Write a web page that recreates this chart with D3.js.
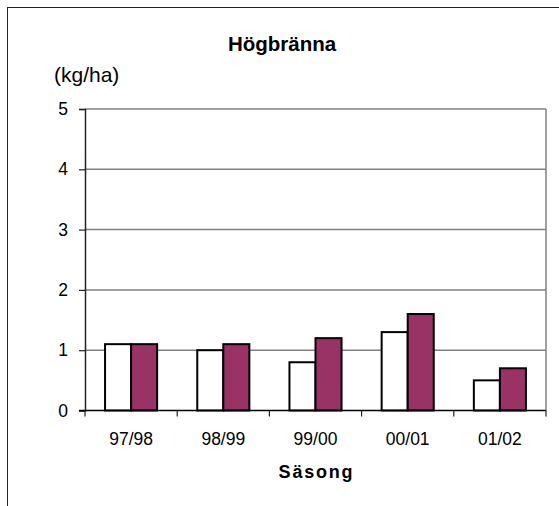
<!DOCTYPE html>
<html>
<head>
<meta charset="utf-8">
<script src="https://cdn.jsdelivr.net/npm/d3@7"></script>
<style>
  html, body { margin: 0; padding: 0; background: #fff; }
  svg { display: block; font-family: "Liberation Sans", Arial, sans-serif; }
</style>
</head>
<body>
<svg id="chart" width="559" height="506"></svg>
<script>
const categories = ["97/98", "98/99", "99/00", "00/01", "01/02"];
const seriesA = [1.1, 1.0, 0.8, 1.3, 0.5];
const seriesB = [1.1, 1.1, 1.2, 1.6, 0.7];
const yTicks = [0, 1, 2, 3, 4, 5];
const title = "Högbränna";
const yUnit = "(kg/ha)";
const xTitle = "Säsong";

const svg = d3.select("#chart");
const m = { left: 85, right: 546, top: 109, bottom: 410.5 };

// outer frame (extends beyond the window on right and bottom)
svg.append("rect").attr("x", 7.5).attr("y", 7.5).attr("width", 600).attr("height", 600)
  .attr("fill", "none").attr("stroke", "#222").attr("stroke-width", 1);

const x = d3.scaleBand().domain(categories).range([m.left, m.right]).paddingInner(0).paddingOuter(0);
const y = d3.scaleLinear().domain([0, 5]).range([m.bottom, m.top]);
const sub = d3.scaleBand().domain(["a", "b"]).range([0, x.bandwidth()]).paddingOuter(0.77).paddingInner(0);

// gridlines
svg.append("g").selectAll("line").data(yTicks.filter(d => d > 0)).join("line")
  .attr("x1", m.left).attr("x2", m.right)
  .attr("y1", d => y(d)).attr("y2", d => y(d))
  .attr("stroke", "#808080").attr("stroke-width", 1.5);
// right border of plot
svg.append("line").attr("x1", m.right).attr("x2", m.right).attr("y1", y(5)).attr("y2", y(0))
  .attr("stroke", "#808080").attr("stroke-width", 1.5);

// bars
const groups = svg.append("g").selectAll("g").data(categories).join("g")
  .attr("transform", d => `translate(${x(d)},0)`);
groups.append("rect")
  .attr("x", sub("a")).attr("width", sub.bandwidth())
  .attr("y", (d, i) => y(seriesA[i])).attr("height", (d, i) => y(0) - y(seriesA[i]))
  .attr("fill", "#ffffff").attr("stroke", "#000").attr("stroke-width", 2);
groups.append("rect")
  .attr("x", sub("b")).attr("width", sub.bandwidth())
  .attr("y", (d, i) => y(seriesB[i])).attr("height", (d, i) => y(0) - y(seriesB[i]))
  .attr("fill", "#993366").attr("stroke", "#000").attr("stroke-width", 2);

// y axis
const yAxis = d3.axisLeft(y).tickValues(yTicks).tickSize(6).tickPadding(11).tickFormat(d3.format("d"));
const gy = svg.append("g").attr("transform", `translate(${m.left},0)`).call(yAxis);
gy.select(".domain").attr("stroke", "#222").attr("stroke-width", 1.5);
gy.selectAll(".tick line").attr("stroke", "#222").attr("stroke-width", 1.2);
gy.selectAll(".tick text").attr("font-size", 17.5).attr("fill", "#000")
  .attr("font-family", "Liberation Sans, Arial, sans-serif");

// x axis
const xAxis = d3.axisBottom(x).tickSize(0).tickPadding(0);
const gx = svg.append("g").attr("transform", `translate(0,${m.bottom})`).call(xAxis);
gx.select(".domain").attr("stroke", "#000").attr("stroke-width", 1.5).attr("d", `M${m.left - 6},0H${m.right}`);
gx.selectAll(".tick text").attr("font-size", 17.5).attr("fill", "#000").attr("dy", 0).attr("y", 34)
  .attr("font-family", "Liberation Sans, Arial, sans-serif");
// category boundary ticks
const bounds = categories.map(c => x(c)).concat([m.right]);
gx.append("g").selectAll("line").data(bounds).join("line")
  .attr("x1", d => d).attr("x2", d => d).attr("y1", 0).attr("y2", 6)
  .attr("stroke", "#222").attr("stroke-width", 1.2);

// texts
svg.append("text").attr("x", 282).attr("y", 51).attr("text-anchor", "middle")
  .attr("font-size", 20.5).attr("font-weight", "bold").text(title);
svg.append("text").attr("x", 54).attr("y", 82).attr("font-size", 21).text(yUnit);
svg.append("text").attr("x", 316.5).attr("y", 478).attr("text-anchor", "middle")
  .attr("font-size", 18).attr("font-weight", "bold").attr("letter-spacing", 1.8).text(xTitle);
</script>
</body>
</html>
